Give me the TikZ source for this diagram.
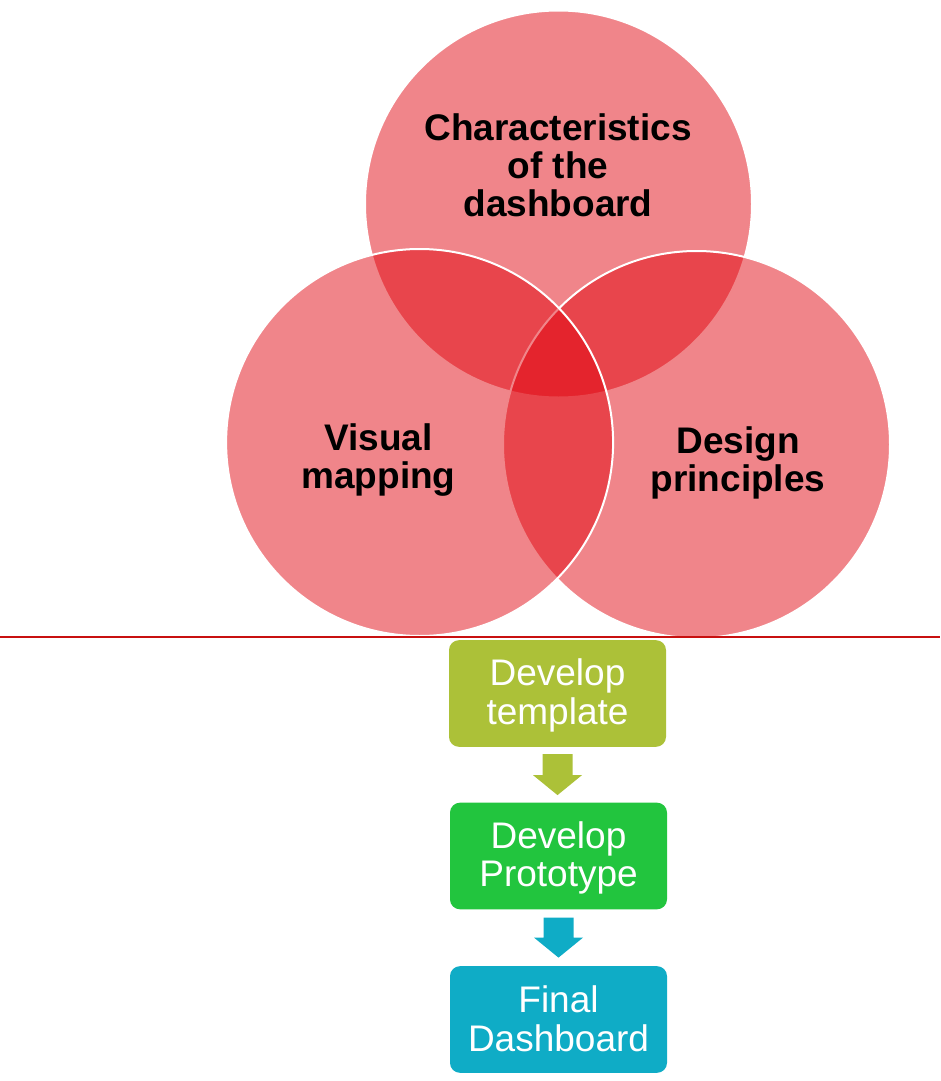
\documentclass[tikz,border=0pt]{standalone}
\usepackage{fontspec}
\setmainfont{Liberation Sans}
\usetikzlibrary{calc}
\definecolor{vennred}{RGB}{224,0,10}
\definecolor{olivebox}{RGB}{172,193,56}
\definecolor{greenbox}{RGB}{34,197,62}
\definecolor{tealbox}{RGB}{15,172,198}
\definecolor{rulered}{RGB}{200,16,16}
\begin{document}
\begin{tikzpicture}[x=0.75pt,y=-0.75pt,
  venn/.style={circle, minimum size=290.25pt, inner sep=0pt, fill=vennred,
    fill opacity=0.48, draw=white, line width=1.5pt},
  vlabel/.style={align=center, text=black, inner sep=0pt,
    font=\bfseries\fontsize{27.75pt}{28.5pt}\selectfont},
  stepbox/.style={rounded corners=7.5pt, minimum width=162.75pt,
    minimum height=80pt, inner sep=0pt, align=center, text=white,
    font=\fontsize{27.75pt}{29pt}\selectfont},
  boxtext/.style={align=center, text=white, inner sep=0pt,
    font=\fontsize{27.75pt}{29pt}\selectfont},
  rulestyle/.style={draw=rulered, line width=0.9pt},
]
\useasboundingbox (0,0) rectangle (940,1081);

% Venn circles (order: top, right, left)
\node[venn] (ctop) at (558.5,204) {};
\node[venn] (cright) at (696.5,444.5) {};
\node[venn] (cleft) at (419.6,442.5) {};

% labels
\node[vlabel] (ltop) at (558,165) {Characteristics\\of the\\dashboard};
\node[vlabel] (lleft) at (378.5,460.5) {Visual\\mapping};
\node[vlabel] (lright) at (738,462.5) {Design\\principles};

% rule
\coordinate (rl) at (0,637);
\coordinate (rr) at (940,637);
\draw[rulestyle] (rl) -- (rr);

% process boxes
\node[stepbox, fill=olivebox] (b1) at (557.5,693.5) {};
\node[boxtext] (t1) at (557.5,695.5) {Develop\\template};
\node[stepbox, fill=greenbox] (b2) at (558.5,856) {};
\node[boxtext] (t2) at (558.5,858) {Develop\\Prototype};
\node[stepbox, fill=tealbox] (b3) at (558.5,1019.5) {};
\node[boxtext] (t3) at (558.5,1018.5) {Final\\Dashboard};

% block arrows
\fill[olivebox] ($(b1.south)+(-15,7)$) -- ($(b1.south)+(15,7)$) -- ($(b1.south)+(15,28)$)
  -- ($(b1.south)+(24.5,28)$) -- ($(b1.south)+(0,48)$) -- ($(b1.south)+(-24.5,28)$)
  -- ($(b1.south)+(-15,28)$) -- cycle;
\fill[tealbox] ($(b2.south)+(-15,8)$) -- ($(b2.south)+(15,8)$) -- ($(b2.south)+(15,28)$)
  -- ($(b2.south)+(24.5,28)$) -- ($(b2.south)+(0,48)$) -- ($(b2.south)+(-24.5,28)$)
  -- ($(b2.south)+(-15,28)$) -- cycle;
\end{tikzpicture}
\end{document}
